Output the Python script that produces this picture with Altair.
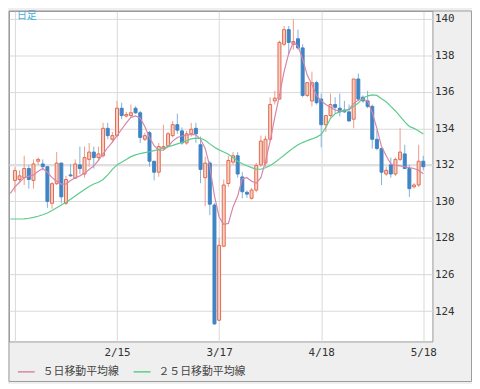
import altair as alt
import pandas as pd

# ---- candle data (trading-day index 0..88) ----
opens = [131.15, 131.2, 131.3, 131.8, 131.15, 132.2, 132.05, 131.9, 129.9, 130.97,
         132.1, 129.9, 131.45, 131.27, 132.0, 131.5, 132.3, 132.7, 132.4, 132.5,
         134.0, 133.4, 133.6, 135.1, 134.67, 134.7, 135.1, 134.85, 133.4, 133.76,
         132.2, 131.6, 132.9, 133.04, 133.6, 134.2, 133.86, 133.2, 133.7, 134.0,
         133.1, 131.3, 132.1, 129.8, 123.5, 127.55, 130.98, 132.15, 132.5, 131.34,
         130.5, 130.17, 130.62, 132.0, 132.1, 133.4, 135.5, 135.6, 138.6, 139.4,
         138.6, 138.9, 138.4, 135.8, 135.5, 136.5, 135.6, 134.2, 134.7, 135.3,
         135.1, 135.0, 134.9, 134.5, 136.7, 135.7, 135.5, 135.2, 133.4, 132.9,
         131.5, 132.0, 131.5, 132.3, 132.6, 131.8, 130.8, 130.9, 132.2]
highs = [131.87, 131.7, 132.5, 132.0, 132.3, 132.4, 132.3, 131.9, 131.05, 132.7,
         132.1, 131.4, 132.05, 132.3, 133.0, 133.0, 133.2, 133.0, 133.0, 134.3,
         134.3, 133.8, 135.5, 135.4, 134.9, 135.3, 135.2, 134.95, 133.76, 133.85,
         132.2, 133.2, 134.2, 133.8, 134.4, 134.8, 134.05, 133.86, 134.3, 134.3,
         133.55, 132.45, 132.2, 129.9, 128.0, 131.2, 132.5, 132.7, 132.7, 131.6,
         130.6, 130.75, 132.1, 133.6, 133.6, 135.7, 136.05, 138.8, 139.6, 139.6,
         139.96, 139.4, 138.6, 136.5, 137.1, 136.6, 135.9, 134.7, 135.9, 135.7,
         135.9, 135.5, 135.3, 136.7, 137.0, 135.8, 136.05, 135.3, 133.9, 132.9,
         131.9, 132.4, 132.4, 134.0, 133.1, 132.0, 131.0, 133.1, 132.5]
lows = [130.5, 131.0, 130.9, 130.7, 130.7, 132.0, 131.7, 129.65, 129.6, 130.9,
        129.9, 129.8, 131.35, 131.25, 131.5, 131.3, 131.9, 131.8, 132.2, 132.4,
        133.4, 133.2, 133.5, 134.5, 134.6, 134.6, 134.8, 133.2, 133.3, 131.9,
        131.15, 131.35, 132.8, 132.95, 133.5, 133.7, 133.1, 133.1, 133.55, 133.2,
        131.0, 129.75, 129.25, 123.25, 123.45, 127.5, 130.8, 132.0, 131.3, 130.17,
        130.2, 130.1, 130.5, 131.9, 131.9, 133.3, 135.3, 135.6, 138.5, 138.0,
        138.3, 138.3, 135.7, 135.7, 135.2, 135.3, 132.96, 133.8, 134.6, 134.8,
        134.65, 134.85, 134.4, 134.0, 135.5, 135.4, 135.1, 132.9, 132.8, 130.9,
        131.4, 131.3, 131.4, 132.2, 131.8, 130.25, 130.7, 130.8, 131.7]
closes = [131.69, 131.4, 131.8, 131.2, 132.05, 132.3, 131.9, 130.0, 130.97, 132.1,
          130.25, 131.2, 131.4, 132.05, 131.8, 132.4, 132.7, 132.4, 132.6, 134.0,
          133.6, 133.6, 135.1, 134.7, 134.76, 134.85, 134.85, 133.5, 133.6, 132.2,
          131.6, 133.0, 133.0, 133.7, 134.2, 133.9, 133.2, 133.7, 133.95, 133.7,
          131.75, 132.1, 129.85, 123.3, 127.6, 130.9, 132.24, 132.5, 131.5, 130.53,
          130.4, 130.62, 131.97, 133.3, 133.4, 135.3, 135.65, 138.7, 139.4, 138.7,
          138.75, 138.4, 135.8, 136.5, 136.5, 135.4, 134.2, 134.7, 135.3, 135.15,
          134.9, 134.9, 134.4, 136.7, 135.6, 135.5, 135.2, 133.4, 132.9, 131.6,
          131.7, 131.5, 132.3, 132.7, 131.8, 130.7, 130.9, 132.2, 131.9]

# ---- moving averages (index -1..88) ----
ma_start = -1
ma5 = [130.44, 130.8, 131.05, 131.3, 131.38, 131.45, 131.65, 131.8, 131.6, 131.3,
       131.1, 130.95, 130.95, 131.15, 131.3, 131.4, 131.55, 131.75, 131.95, 132.24,
       132.6, 132.95, 133.25, 133.6, 133.95, 134.3, 134.6, 134.68, 134.55, 134.1,
       133.5, 133.05, 132.8, 132.8, 133.0, 133.3, 133.5, 133.58, 133.62, 133.67,
       133.65, 133.4, 132.9, 131.9, 130.3, 129.15, 128.75, 128.8, 129.7, 130.3,
       131.25, 131.3, 131.1, 131.0, 131.3, 132.2, 133.3, 134.6, 135.8, 137.1,
       138.1, 138.7, 138.5, 137.8, 136.9, 136.4, 135.8, 135.5, 135.3, 135.15,
       135.0, 134.95, 134.95, 135.05, 135.35, 135.55, 135.58, 135.5, 134.86, 134.0,
       133.0, 132.5, 132.06, 131.98, 131.95, 131.9, 131.85, 131.8, 131.7, 131.52]
ma25 = [129.04, 129.04, 129.04, 129.05, 129.08, 129.13, 129.19, 129.27, 129.37, 129.5,
        129.65, 129.8, 129.95, 130.12, 130.3, 130.48, 130.65, 130.82, 130.95, 131.05,
        131.2, 131.45, 131.75, 132.0, 132.15, 132.3, 132.45, 132.55, 132.62, 132.67,
        132.72, 132.78, 132.84, 132.92, 133.0, 133.07, 133.15, 133.23, 133.32, 133.42,
        133.46, 133.45, 133.35, 133.15, 132.96, 132.82, 132.7, 132.58, 132.4, 132.2,
        132.06, 131.95, 131.85, 131.76, 131.76, 131.84, 131.97, 132.13, 132.33, 132.53,
        132.73, 132.93, 133.1, 133.22, 133.33, 133.42, 133.52, 133.66, 134.05, 134.55,
        134.8, 134.9, 134.97, 135.03, 135.2, 135.38, 135.65, 135.78, 135.83, 135.8,
        135.62, 135.45, 135.2, 134.95, 134.65, 134.35, 134.1, 134.0, 133.85, 133.69]

tick_idx = [0, 22, 44, 66, 88]
tick_labels = ["", "2/15", "3/17", "4/18", "5/18"]
y_ticks = [124, 126, 128, 130, 132, 134, 136, 138, 140]
series_names = ["５日移動平均線", "２５日移動平均線"]
series_colors = ["#d686a8", "#5ccb8c"]
frame_label = "日足"
ref_level = 132.0

# ---- tables ----
n = len(opens)
candles = pd.DataFrame({"i": list(range(n)), "open": opens, "high": highs,
                        "low": lows, "close": closes})
candles["dir"] = ["up" if c >= o else "down" for o, c in zip(opens, closes)]

ma_df = pd.concat([
    pd.DataFrame({"i": list(range(ma_start, ma_start + len(ma5))), "v": ma5, "s": series_names[0]}),
    pd.DataFrame({"i": list(range(ma_start, ma_start + len(ma25))), "v": ma25, "s": series_names[1]}),
], ignore_index=True)

label_expr = " : ".join(
    [f"datum.value == {k} ? '{v}'" for k, v in zip(tick_idx, tick_labels)]
) + " : ''"

W, H = 428, 334
xs = alt.Scale(domain=[-0.21, 88.9], nice=False, zero=False)
ys = alt.Scale(domain=[122.34, 140.42], nice=False, zero=False)

x_axis = alt.Axis(values=tick_idx, labelExpr=label_expr, grid=True, ticks=False,
                  domain=False, title=None, labelFlush=False, labelOverlap=False,
                  labelFont="DejaVu Sans Mono", labelFontSize=11, labelColor="#333333",
                  labelPadding=5, gridColor="#d9d9d9")
y_axis = alt.Axis(orient="right", values=y_ticks, grid=True, ticks=False, domain=False,
                  title=None, labelFont="DejaVu Sans Mono", labelFontSize=11,
                  labelColor="#333333", labelPadding=2, gridColor="#d9d9d9")


def xenc():
    return alt.X("i:Q", scale=xs, axis=x_axis, title=None)


def yenc(field):
    return alt.Y(f"{field}:Q", scale=ys, axis=y_axis, title=None)


base = alt.Chart(candles)

ref_line = alt.Chart(pd.DataFrame({"v": [ref_level]})).mark_rule(
    color="#dedede", strokeWidth=2).encode(y=yenc("v"))

wick_up = base.transform_filter("datum.dir == 'up'").mark_rule(
    color="#ee9c88", strokeWidth=1).encode(x=xenc(), y=yenc("low"), y2="high")
wick_dn = base.transform_filter("datum.dir == 'down'").mark_rule(
    color="#7fb2de", strokeWidth=1).encode(x=xenc(), y=yenc("low"), y2="high")
body_up = base.transform_filter("datum.dir == 'up'").mark_bar(
    size=3, fill="#f8d0c4", stroke="#e2694f", strokeWidth=1).encode(
    x=xenc(), y=yenc("open"), y2="close")
body_dn = base.transform_filter("datum.dir == 'down'").mark_bar(
    size=3, fill="#3f84c4", stroke="#3f84c4", strokeWidth=1).encode(
    x=xenc(), y=yenc("open"), y2="close")

ma_lines = alt.Chart(ma_df).mark_line(strokeWidth=1.2, clip=True).encode(
    x=xenc(), y=yenc("v"),
    color=alt.Color("s:N", scale=alt.Scale(domain=series_names, range=series_colors),
                    sort=series_names,
                    legend=alt.Legend(title=None, orient="none", direction="horizontal",
                                      legendX=8, legendY=355, symbolType="stroke",
                                      symbolSize=289, symbolStrokeWidth=1.5,
                                      labelFont="Noto Sans CJK JP", labelFontSize=11,
                                      labelColor="#444444", labelOffset=7,
                                      columnPadding=12, padding=0)))

frame_txt = alt.Chart(pd.DataFrame({"t": [frame_label]})).mark_text(
    align="left", baseline="middle", fontSize=10, font="Noto Sans CJK JP",
    color="#3aaee2").encode(x=alt.value(8), y=alt.value(5), text="t:N")

outer = alt.Chart(pd.DataFrame({"k": [0]})).mark_rect(
    fillOpacity=0, stroke="#9c9c9c", strokeWidth=1).encode(
    x=alt.value(0), x2=alt.value(467.5), y=alt.value(0), y2=alt.value(374.5))

chart = alt.layer(ref_line, wick_up, wick_dn, body_up, body_dn, ma_lines, frame_txt, outer).properties(
    width=W, height=H, autosize="none",
    padding={"left": 1, "top": 1, "right": 40, "bottom": 41},
).configure(background="#efefef").configure_view(
    stroke="#999999", strokeWidth=1, fill="white")

chart.save("out.html", embed_options={"renderer": "svg", "actions": False})
